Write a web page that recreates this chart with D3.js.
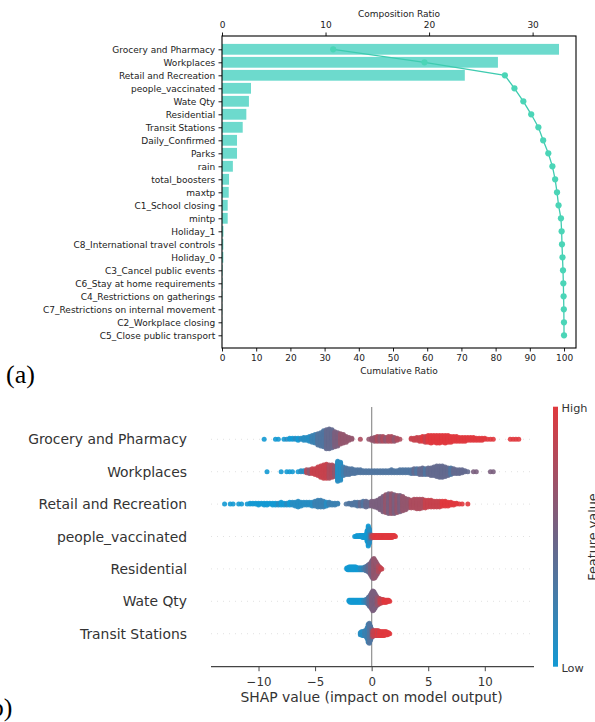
<!DOCTYPE html>
<html>
<head>
<meta charset="utf-8">
<script src="https://cdn.jsdelivr.net/npm/d3@7"></script>
<style>
  body { margin: 0; background: #fff; }
  svg { display: block; font-family: "DejaVu Sans", sans-serif; }
</style>
</head>
<body>
<div id="chart"></div>
<script>
// ---- (a) pareto of feature importance ----
const features = [
  "Grocery and Pharmacy", "Workplaces", "Retail and Recreation", "people_vaccinated",
  "Wate Qty", "Residential", "Transit Stations", "Daily_Confirmed", "Parks", "rain",
  "total_boosters", "maxtp", "C1_School closing", "mintp", "Holiday_1",
  "C8_International travel controls", "Holiday_0", "C3_Cancel public events",
  "C6_Stay at home requirements", "C4_Restrictions on gatherings",
  "C7_Restrictions on internal movement", "C2_Workplace closing", "C5_Close public transport"
];
const composition = [32.55, 26.65, 23.45, 2.8, 2.6, 2.35, 2.0, 1.45, 1.45, 1.05, 0.68, 0.65,
  0.55, 0.55, 0.14, 0.13, 0.13, 0.06, 0.05, 0.04, 0.03, 0.02, 0.01];
const cumulative = [32.5, 59.2, 82.7, 85.5, 88.1, 90.4, 92.5, 93.9, 95.4, 96.6, 97.4, 97.95,
  98.4, 99.1, 99.3, 99.4, 99.55, 99.7, 99.8, 99.88, 99.94, 99.98, 100];
const compTicks = [0, 10, 20, 30];
const cumTicks = [0, 10, 20, 30, 40, 50, 60, 70, 80, 90, 100];

// ---- (b) SHAP beeswarm, binned: counts per bin and feature level (0 low .. 9 high) ----
const shapFeatures = ["Grocery and Pharmacy", "Workplaces", "Retail and Recreation",
  "people_vaccinated", "Residential", "Wate Qty", "Transit Stations"];
const shapBinStart = [-9.5, -9.25, -13.0, -1.5, -2.2, -2.0, -1.0];
const shapBinStep = [0.25, 0.25, 0.25, 0.1, 0.1, 0.1, 0.1];

const groceryCounts = [1,0,0,0,1,1,0,1,1,2, 2,2,3,2,4,4,6,8,10,13, 15,18,21,22,20,17,15,12,10,7,
  4,2,0,0,1,0,0,1,3,5, 6,6,6,5,6,6,5,3,1,0, 0,0,2,3,4,5,6,7,8,9, 8,9,9,8,9,8,7,6,6,5,
  5,5,4,4,4,3,3,3,2,1, 1,1,0,0,0,0,0,1,1,1, 1];
const groceryLevels = [0,0,0,0,0,0,0,0,1,0, 0,1,0,1,1,1,1,2,2,3, 3,3,4,4,4,5,5,6,6,6,
  6,6,6,6,7,6,6,6,6,6, 7,6,7,6,7,7,6,7,7,7, 8,8,8,8,8,8,9,8,9,9, 9,9,9,9,9,9,9,9,9,9,
  9,9,9,9,9,9,9,9,9,9, 9,9,9,9,9,9,9,9,9,9, 9];

const workCounts = [1,0,0,0,0,1,0,1,1,1, 0,1,2,2,4,5,6,7,10,13, 15,16,15,14,12,22,20,10,8,7,
  6,5,4,4,3,3,3,3,3,3, 3,3,3,3,4,3,3,4,4,4, 4,5,6,6,7,8,7,8,9,10, 12,13,13,11,9,8,6,5,5,4,
  2,1,0,1,1,0,0,0,0,1, 1];
const workLevels = [0,0,0,0,0,0,0,0,0,0, 0,0,1,1,7,6,8,8,8,8, 8,8,7,7,6,1,1,2,3,3,
  3,3,3,3,3,3,3,3,3,3, 3,3,3,3,3,3,3,3,3,3, 3,3,4,3,4,4,3,4,4,4, 4,4,4,4,4,3,4,4,4,4,
  4,4,4,5,5,5,5,5,5,5, 5];

const retailCounts = [1,0,1,1,0,1,1,0,1,2, 2,2,3,2,3,3,2,3,3,3, 4,3,3,4,4,5,7,5,4,4,
  4,5,6,8,8,7,5,4,3,3, 2,0,0,1,2,3,4,5,5,6, 7,5,6,7,9,13,17,20,22,22, 21,19,18,16,13,10,9,10,11,11,
  10,9,8,8,7,7,7,6,6,5, 4,3,2,1,1,0,1];
const retailLevels = [0,0,0,0,0,0,0,0,0,0, 0,0,0,0,0,0,0,0,0,1, 0,0,1,0,1,1,1,1,1,1,
  1,1,2,2,2,2,1,2,2,2, 2,2,2,3,3,3,3,3,4,3, 4,4,5,5,5,5,5,6,5,6, 5,6,5,6,6,6,7,7,7,7,
  7,8,8,8,8,8,8,9,9,9, 9,9,9,9,9,9,9];

const vaccCounts = [1,1,2,1,2,2,2,3,3,3, 4,12,22,16,5,3,3,3,3,3, 3,3,3,3,3,3,3,3,3,3, 3,3,3,3,2,2,1];
const vaccLevels = [0,0,0,0,0,0,0,0,0,0, 0,0,0,1,3,6,8,8,9,9, 9,9,9,9,9,9,9,9,9,9, 9,9,9,9,9,9,9];

const residCounts = [2,3,4,4,4,4,4,4,4,3, 3,3,3,3,3,3,4,5,6,8, 10,13,17,21,22,19,15,11,7,4, 2,1];
const residLevels = [0,0,0,0,0,0,0,0,0,0, 0,0,1,1,1,2,2,3,3,4, 4,5,5,5,6,6,6,6,7,7, 8,8];

const wateCounts = [2,3,3,3,3,3,3,3,3,3, 3,3,3,3,3,4,5,8,11,14, 18,22,20,16,12,9,7,6,5,4, 4,3,3,3,2,2,1];
const wateLevels = [0,0,0,0,0,0,0,0,0,0, 0,0,0,1,1,2,2,3,4,4, 5,5,5,5,5,6,6,7,8,8, 8,9,9,9,9,9,9];

const transitCounts = [3,4,5,5,6,7,12,20,22,16, 10,7,6,6,6,6,6,5,5,5, 5,5,4,4,3,2,1];
const transitLevels = [1,1,1,1,2,2,2,2,3,3, 4,7,8,8,8,9,8,9,9,9, 9,9,9,9,9,9,9];

const shapCounts = [groceryCounts, workCounts, retailCounts, vaccCounts, residCounts, wateCounts, transitCounts];
const shapLevels = [groceryLevels, workLevels, retailLevels, vaccLevels, residLevels, wateLevels, transitLevels];
const shapTicks = [-10, -5, 0, 5, 10];

const svg = d3.select("#chart")
  .append("svg")
  .attr("width", 595)
  .attr("height", 722);

drawPareto();
drawSwarm();

function drawPareto() {
  const left = 222, right = 576, top = 36, bottom = 348;
  const y = d3.scalePoint().domain(features).range([49.3, 335.3]);
  const xComp = d3.scaleLinear().domain([0, 34.19]).range([left, right]);
  const xCum = d3.scaleLinear().domain([0, 103.5]).range([left, right]);
  const g = svg.append("g");

  g.selectAll("rect.bar")
    .data(features)
    .enter()
    .append("rect")
    .attr("class", "bar")
    .attr("x", xComp(0))
    .attr("y", d => y(d) - 5.4)
    .attr("width", (d, i) => xComp(composition[i]) - xComp(0))
    .attr("height", 10.8)
    .attr("fill", "#6ddacd");

  const pts = features.map((f, i) => [f, cumulative[i]]);
  g.append("path")
    .datum(pts)
    .attr("fill", "none")
    .attr("stroke", "#3fcbb0")
    .attr("stroke-width", 1.3)
    .attr("d", d3.line().x(d => xCum(d[1])).y(d => y(d[0])));
  g.selectAll("circle.cum")
    .data(pts)
    .enter()
    .append("circle")
    .attr("class", "cum")
    .attr("cx", d => xCum(d[1]))
    .attr("cy", d => y(d[0]))
    .attr("r", 3.1)
    .attr("fill", "#4bd5b7");

  // frame
  g.append("rect")
    .attr("x", left).attr("y", top)
    .attr("width", right - left).attr("height", bottom - top)
    .attr("fill", "none").attr("stroke", "#000").attr("stroke-width", 1.1);

  const axB = g.append("g").attr("transform", `translate(0,${bottom})`)
    .call(d3.axisBottom(xCum).tickValues(cumTicks).tickSize(3.5).tickPadding(3.4));
  const axT = g.append("g").attr("transform", `translate(0,${top})`)
    .call(d3.axisTop(xComp).tickValues(compTicks).tickSize(3.5).tickPadding(4.2));
  const axL = g.append("g").attr("transform", `translate(${left},0)`)
    .call(d3.axisLeft(y).tickSize(3.5).tickPadding(3.3));
  [axB, axT, axL].forEach(a => {
    a.select(".domain").remove();
    a.selectAll("text").attr("font-size", 9).attr("fill", "#222")
      .attr("font-family", "DejaVu Sans");
    a.selectAll("line").attr("stroke", "#000").attr("stroke-width", 0.9);
  });

  g.append("text").attr("x", (left + right) / 2).attr("y", 17.3)
    .attr("text-anchor", "middle").attr("font-size", 9).attr("fill", "#222")
    .text("Composition Ratio");
  g.append("text").attr("x", (left + right) / 2).attr("y", 374.2)
    .attr("text-anchor", "middle").attr("font-size", 9).attr("fill", "#222")
    .text("Cumulative Ratio");

  g.append("text").attr("x", 6).attr("y", 383)
    .attr("font-family", "Liberation Serif").attr("font-size", 26).attr("fill", "#000")
    .text("(a)");
}

function drawSwarm() {
  const x = d3.scaleLinear().domain([-14.2, 14.35]).range([211, 534]);
  const y = d3.scalePoint().domain(shapFeatures).range([439.3, 633.7]);
  const axisY = 666.7;
  const color = d3.scaleLinear().domain([0, 0.5, 1])
    .range(["#1399d3", "#6e6486", "#e0393e"]);
  const g = svg.append("g");

  // row guides and zero line
  g.selectAll("line.row")
    .data(shapFeatures)
    .enter()
    .append("line")
    .attr("class", "row")
    .attr("x1", 211).attr("x2", 534)
    .attr("y1", d => y(d)).attr("y2", d => y(d))
    .attr("stroke", "#cccccc").attr("stroke-width", 0.6)
    .attr("stroke-dasharray", "1,5");
  g.append("line")
    .attr("x1", x(0)).attr("x2", x(0)).attr("y1", 407).attr("y2", axisY)
    .attr("stroke", "#999999").attr("stroke-width", 1.3);

  // build dots: stack each bin alternately above/below the row line
  const dots = [];
  shapFeatures.forEach((name, ri) => {
    const counts = shapCounts[ri];
    const levels = shapLevels[ri];
    const maxLayer = Math.ceil((d3.max(counts) - 1) / 2);
    const spacing = 10.4 / maxLayer;
    counts.forEach((n, bi) => {
      const v = shapBinStart[ri] + bi * shapBinStep[ri];
      for (let k = 0; k < n; k++) {
        const off = Math.ceil(k / 2) * ((k % 2) * 2 - 1);
        dots.push({ v: v, cy: y(name) - off * spacing, level: levels[bi] / 9 });
      }
    });
  });

  g.selectAll("circle.dot")
    .data(dots)
    .enter()
    .append("circle")
    .attr("class", "dot")
    .attr("cx", d => x(d.v))
    .attr("cy", d => d.cy)
    .attr("r", 2.5)
    .attr("fill", d => color(d.level))
    .attr("fill-opacity", 0.9);

  // feature labels
  g.selectAll("text.feat")
    .data(shapFeatures)
    .enter()
    .append("text")
    .attr("class", "feat")
    .attr("x", 187)
    .attr("y", d => y(d))
    .attr("dy", "0.36em")
    .attr("text-anchor", "end")
    .attr("font-size", 13.9)
    .attr("fill", "#333333")
    .text(d => d);

  const ax = g.append("g").attr("transform", `translate(0,${axisY})`)
    .call(d3.axisBottom(x).tickValues(shapTicks).tickSize(4.5).tickPadding(6.2));
  ax.select(".domain").remove();
  ax.selectAll("text").attr("font-size", 11.8).attr("fill", "#333333")
    .attr("font-family", "DejaVu Sans");
  ax.selectAll("line").attr("stroke", "#333333").attr("stroke-width", 0.9);
  g.append("line").attr("x1", 211).attr("x2", 534).attr("y1", axisY).attr("y2", axisY)
    .attr("stroke", "#444444").attr("stroke-width", 1.3);

  g.append("text").attr("x", x(0)).attr("y", 701.5)
    .attr("text-anchor", "middle").attr("font-size", 13.9).attr("fill", "#333333")
    .text("SHAP value (impact on model output)");

  // colour bar
  const grad = svg.append("defs").append("linearGradient")
    .attr("id", "cbar").attr("x1", 0).attr("y1", 1).attr("x2", 0).attr("y2", 0);
  [0, 0.5, 1].forEach(t => grad.append("stop")
    .attr("offset", t).attr("stop-color", color(t)));
  g.append("rect").attr("x", 553).attr("y", 406.7).attr("width", 5).attr("height", 260)
    .attr("fill", "url(#cbar)");
  g.append("text").attr("x", 561.5).attr("y", 408).attr("dy", "0.36em")
    .attr("font-size", 11.3).attr("fill", "#333333").text("High");
  g.append("text").attr("x", 561.5).attr("y", 667.5).attr("dy", "0.36em")
    .attr("font-size", 11.3).attr("fill", "#333333").text("Low");
  // the reference crops this label at the right edge
  g.append("text").attr("transform", "translate(597,537) rotate(-90)")
    .attr("text-anchor", "middle").attr("font-size", 12.8).attr("fill", "#333333")
    .text("Feature value");

  // the reference crops this label at the left and bottom edges
  g.append("text").attr("x", -18).attr("y", 716)
    .attr("font-family", "Liberation Serif").attr("font-size", 26).attr("fill", "#000")
    .text("(b)");
}
</script>
</body>
</html>
